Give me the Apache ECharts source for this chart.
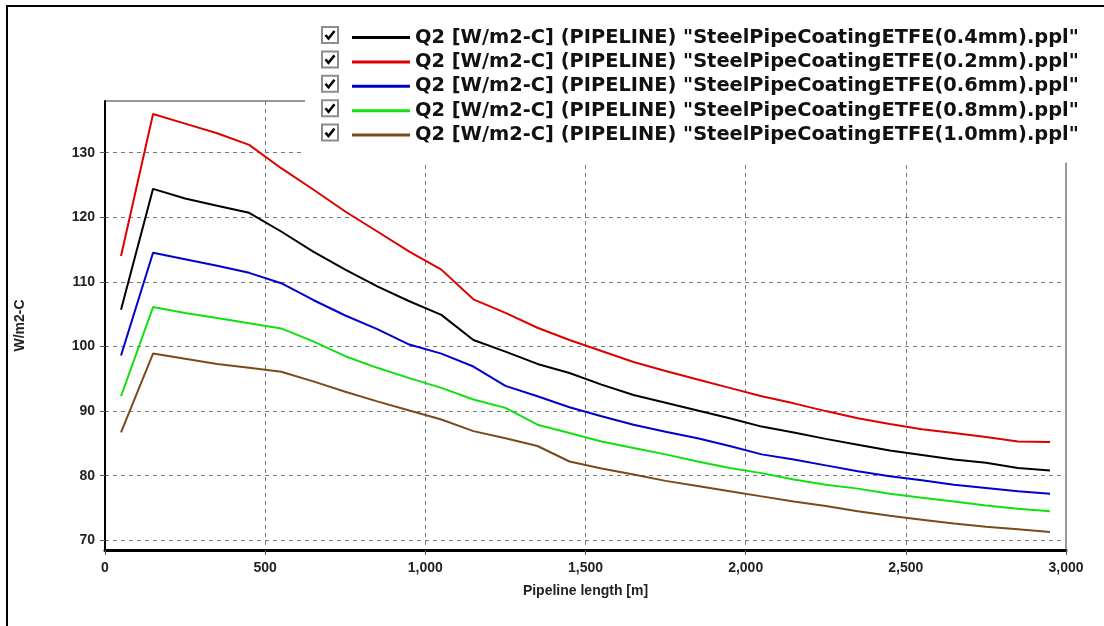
<!DOCTYPE html>
<html>
<head>
<meta charset="utf-8">
<script src="https://cdn.jsdelivr.net/npm/echarts@6/dist/echarts.min.js"></script>
<style>
html,body{margin:0;padding:0;background:#fff;}
#chart{width:1104px;height:626px;}
</style>
</head>
<body>
<div id="chart"></div>
<script>
// Pipeline length positions [m]
const lengths = [50,150,250,350,450,550,650,750,850,950,1050,1150,1250,1350,1450,1550,1650,1750,1850,1950,2050,2150,2250,2350,2450,2550,2650,2750,2850,2950];

// Q2 [W/m2-C] per coating thickness
const q2_04 = [105.7,124.4,122.9,121.8,120.7,117.8,114.7,111.9,109.3,107.0,104.9,101.0,99.2,97.3,95.9,94.1,92.5,91.3,90.1,88.9,87.6,86.7,85.7,84.8,83.9,83.2,82.5,82.0,81.2,80.8];
const q2_02 = [114.0,136.0,134.5,133.0,131.2,127.6,124.3,120.9,117.8,114.7,111.9,107.3,105.2,102.9,101.0,99.3,97.6,96.2,94.9,93.6,92.3,91.2,90.0,88.9,88.0,87.2,86.6,86.0,85.3,85.2];
const q2_06 = [98.6,114.5,113.5,112.5,111.4,109.8,107.2,104.8,102.7,100.3,98.9,96.9,93.9,92.3,90.6,89.2,87.9,86.8,85.8,84.6,83.3,82.5,81.6,80.7,79.9,79.3,78.6,78.1,77.6,77.2];
const q2_08 = [92.3,106.1,105.2,104.4,103.6,102.8,100.8,98.5,96.7,95.1,93.6,91.8,90.5,87.9,86.6,85.3,84.3,83.3,82.2,81.2,80.4,79.4,78.6,78.0,77.2,76.6,76.0,75.4,74.9,74.5];
const q2_10 = [86.7,98.9,98.1,97.3,96.7,96.1,94.6,93.0,91.5,90.1,88.7,86.9,85.8,84.6,82.2,81.1,80.2,79.2,78.4,77.6,76.8,76.0,75.3,74.5,73.8,73.2,72.6,72.1,71.7,71.3];

const seriesNames = [
  'Q2 [W/m2-C] (PIPELINE) "SteelPipeCoatingETFE(0.4mm).ppl"',
  'Q2 [W/m2-C] (PIPELINE) "SteelPipeCoatingETFE(0.2mm).ppl"',
  'Q2 [W/m2-C] (PIPELINE) "SteelPipeCoatingETFE(0.6mm).ppl"',
  'Q2 [W/m2-C] (PIPELINE) "SteelPipeCoatingETFE(0.8mm).ppl"',
  'Q2 [W/m2-C] (PIPELINE) "SteelPipeCoatingETFE(1.0mm).ppl"'
];
const seriesValues = [q2_04, q2_02, q2_06, q2_08, q2_10];
const seriesColors = ['#000000', '#dd0000', '#0000cc', '#10e010', '#7a4a1a'];

const xAxisName = 'Pipeline length [m]';
const yAxisName = 'W/m2-C';

const chart = echarts.init(document.getElementById('chart'), null, {renderer: 'canvas'});

const series = seriesNames.map((name, i) => ({
  name: name,
  type: 'line',
  showSymbol: false,
  symbol: 'none',
  color: seriesColors[i],
  lineStyle: {width: 2, color: seriesColors[i]},
  data: lengths.map((x, k) => [x, seriesValues[i][k]]),
  z: 3
}));

// checkbox decorations beside legend rows
const graphics = [{
  type: 'rect',
  shape: {x: 7, y: 6, width: 1300, height: 800},
  style: {fill: 'none', stroke: '#000', lineWidth: 2},
  z: 200, silent: true
}];
const rowTop = 35, rowStep = 24.4;
for (let i = 0; i < seriesNames.length; i++) {
  const cy = rowTop + rowStep * i;
  const bx = 322, by = cy - 8;
  graphics.push({
    type: 'rect', shape: {x: bx, y: by, width: 16, height: 16},
    style: {fill: '#fff', stroke: '#8c8c8c', lineWidth: 2}, z: 200, silent: true
  });
  graphics.push({
    type: 'polyline', shape: {points: [[bx + 3.5, cy], [bx + 6.5, cy + 3.5], [bx + 12.5, cy - 4]]},
    style: {fill: 'none', stroke: '#000', lineWidth: 2.5}, z: 201, silent: true
  });
}

const option = {
  animation: false,
  backgroundColor: '#fff',
  grid: {
    left: 105, right: 38, top: 101, bottom: 76,
    show: true, borderColor: '#333', borderWidth: 1, backgroundColor: 'transparent'
  },
  legend: {
    orient: 'vertical',
    left: 305, top: 12,
    padding: [16, 20, 18, 47],
    backgroundColor: '#fff',
    itemWidth: 58, itemHeight: 3,
    itemGap: 5.4,
    icon: 'rect',
    selectedMode: false,
    textStyle: {fontFamily: 'DejaVu Sans', fontWeight: 'bold', fontSize: 19.4, color: '#111'},
    data: seriesNames,
    z: 10
  },
  xAxis: {
    type: 'value', min: 0, max: 3000, interval: 500,
    name: xAxisName, nameLocation: 'middle', nameGap: 34,
    nameTextStyle: {fontFamily: 'Liberation Sans', fontWeight: 'bold', fontSize: 14, color: '#222'},
    axisLine: {show: true, onZero: false, lineStyle: {color: '#000', width: 3}},
    axisTick: {show: true, length: 5, lineStyle: {color: '#555'}},
    axisLabel: {
      fontFamily: 'Liberation Sans', fontWeight: 'bold', fontSize: 14, color: '#222', margin: 11,
      formatter: v => String(v).replace(/\B(?=(\d{3})+(?!\d))/g, ',')
    },
    splitLine: {show: true, showMinLine: false, showMaxLine: false, lineStyle: {color: '#777', type: [4, 4], width: 1}}
  },
  yAxis: {
    type: 'value', min: 68.5, max: 138, splitNumber: 7,
    name: yAxisName, nameLocation: 'middle', nameGap: 78,
    nameTextStyle: {fontFamily: 'Liberation Sans', fontWeight: 'bold', fontSize: 14, color: '#222'},
    axisLine: {show: true, onZero: false, lineStyle: {color: '#000', width: 2}},
    axisTick: {show: true, length: 5, lineStyle: {color: '#555'}},
    axisLabel: {
      fontFamily: 'Liberation Sans', fontWeight: 'bold', fontSize: 14, color: '#222', margin: 10,
      showMinLabel: false, showMaxLabel: false
    },
    splitLine: {show: true, showMinLine: false, showMaxLine: false, lineStyle: {color: '#777', type: [4, 4], width: 1}}
  },
  graphic: graphics,
  series: series
};
chart.setOption(option);
</script>
</body>
</html>
